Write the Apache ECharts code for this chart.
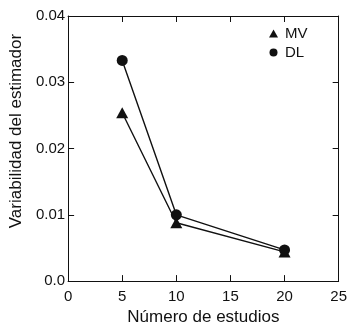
<!DOCTYPE html>
<html>
<head>
<meta charset="utf-8">
<script src="https://cdn.jsdelivr.net/npm/echarts@6/dist/echarts.min.js"></script>
<style>
  html, body { margin: 0; padding: 0; background: #fff; }
  #chart { width: 350px; height: 331px; }
</style>
</head>
<body>
<div id="chart"></div>
<script>
// Número de estudios (eje X)
const estudios = [5, 10, 20];
// Variabilidad del estimador por método
const mvValues = [0.0254, 0.0088, 0.0044];
const dlValues = [0.0333, 0.0100, 0.0047];
// Nombres de las series
const seriesNames = ['MV', 'DL'];

const FONT = '"Liberation Sans", Arial, sans-serif';
const INK = '#111';

function pairs(xs, ys) {
  return xs.map((x, i) => [x, ys[i]]);
}

const tickStyle = { inside: true, length: 6, lineStyle: { color: INK, width: 1 } };
const lineStyle = { show: true, onZero: false, lineStyle: { color: INK, width: 1 } };

const chart = echarts.init(document.getElementById('chart'), null, { renderer: 'canvas' });

chart.setOption({
  animation: false,
  backgroundColor: '#fff',
  grid: { left: 67, right: 9, top: 16, bottom: 49.5, containLabel: false },
  legend: {
    orient: 'vertical',
    left: 264,
    top: 21,
    itemWidth: 9,
    itemHeight: 8,
    itemGap: 4,
    textStyle: { fontFamily: FONT, fontSize: 15, color: INK, padding: [0, 0, 0, 2] },
    data: [
      { name: seriesNames[0], icon: 'triangle', itemStyle: { color: INK } },
      { name: seriesNames[1], icon: 'circle', itemStyle: { color: INK } }
    ]
  },
  xAxis: [
    {
      type: 'value', min: 0, max: 25, interval: 5, position: 'bottom',
      name: 'Número de estudios',
      nameLocation: 'middle', nameGap: 26,
      nameTextStyle: { fontFamily: FONT, fontSize: 17, color: INK },
      axisLine: lineStyle,
      axisTick: tickStyle,
      axisLabel: { fontFamily: FONT, fontSize: 15, color: INK, margin: 8 },
      splitLine: { show: false }
    },
    {
      type: 'value', min: 0, max: 25, interval: 5, position: 'top',
      axisLine: lineStyle,
      axisTick: tickStyle,
      axisLabel: { show: false },
      splitLine: { show: false }
    }
  ],
  yAxis: [
    {
      type: 'value', min: 0, max: 0.04, interval: 0.01, position: 'left',
      name: 'Variabilidad del estimador',
      nameLocation: 'middle', nameGap: 42,
      nameTextStyle: { fontFamily: FONT, fontSize: 17, color: INK, padding: [0, 0, 0, 35] },
      axisLine: lineStyle,
      axisTick: tickStyle,
      axisLabel: {
        fontFamily: FONT, fontSize: 15, color: INK, margin: 3,
        formatter: v => (v === 0 ? '0.0' : v.toFixed(2))
      },
      splitLine: { show: false }
    },
    {
      type: 'value', min: 0, max: 0.04, interval: 0.01, position: 'right',
      axisLine: lineStyle,
      axisTick: tickStyle,
      axisLabel: { show: false },
      splitLine: { show: false }
    }
  ],
  series: [
    {
      name: seriesNames[0],
      type: 'line',
      data: pairs(estudios, mvValues),
      symbol: 'triangle',
      symbolSize: [12, 11],
      itemStyle: { color: INK },
      lineStyle: { color: INK, width: 1.4 },
      z: 2
    },
    {
      name: seriesNames[1],
      type: 'line',
      data: pairs(estudios, dlValues),
      symbol: 'circle',
      symbolSize: 11,
      itemStyle: { color: INK },
      lineStyle: { color: INK, width: 1.4 },
      z: 3
    }
  ]
});
</script>
</body>
</html>
